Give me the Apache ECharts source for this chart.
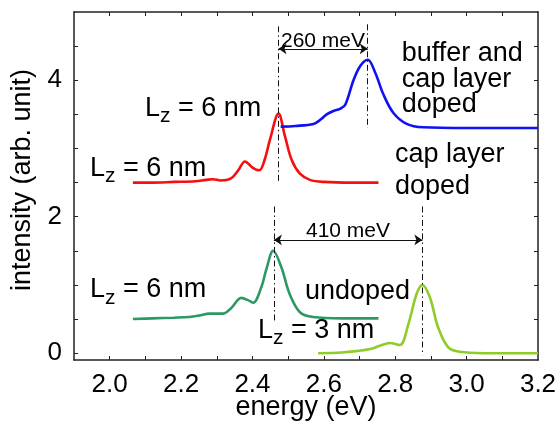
<!DOCTYPE html>
<html>
<head>
<meta charset="utf-8">
<script src="https://cdn.jsdelivr.net/npm/echarts@6/dist/echarts.min.js"></script>
<style>html,body{margin:0;padding:0;background:#fff}#c{width:560px;height:430px}</style>
</head>
<body>
<div id="c"></div>
<script>
// ---- data (energy in eV, intensity in arb. units) ----
const capDoped = [[2.065,2.50],[2.12,2.50],[2.18,2.51],[2.24,2.52],[2.27,2.54],[2.29,2.55],[2.31,2.53],[2.34,2.56],[2.36,2.68],[2.379,2.81],[2.40,2.72],[2.419,2.68],[2.435,2.85],[2.449,3.13],[2.473,3.51],[2.491,3.18],[2.51,2.83],[2.533,2.63],[2.561,2.54],[2.60,2.51],[2.68,2.50],[2.753,2.50]];
const bufferCapDoped = [[2.479,3.32],[2.52,3.33],[2.571,3.36],[2.59,3.42],[2.608,3.50],[2.627,3.55],[2.645,3.58],[2.66,3.64],[2.683,4.00],[2.702,4.21],[2.723,4.30],[2.744,4.11],[2.767,3.79],[2.795,3.52],[2.832,3.36],[2.878,3.31],[3.0,3.30],[3.2,3.30]];
const undoped6 = [[2.065,0.50],[2.12,0.51],[2.18,0.52],[2.223,0.53],[2.25,0.55],[2.28,0.58],[2.318,0.58],[2.34,0.66],[2.369,0.81],[2.39,0.77],[2.402,0.74],[2.425,0.97],[2.44,1.25],[2.458,1.50],[2.481,1.26],[2.504,0.87],[2.533,0.60],[2.57,0.53],[2.65,0.51],[2.753,0.51]];
const undoped3 = [[2.584,0.00],[2.65,0.01],[2.691,0.03],[2.73,0.06],[2.757,0.11],[2.785,0.15],[2.813,0.12],[2.837,0.43],[2.86,0.87],[2.876,1.00],[2.897,0.82],[2.92,0.38],[2.948,0.09],[2.98,0.02],[3.05,0.00],[3.2,0.00]];
// vertical dash-dot guides and double arrows (data coordinates)
const guideLines = [
  [[2.473,4.79],[2.473,2.49]],
  [[2.723,4.82],[2.723,3.30]],
  [[2.460,2.15],[2.460,0.48]],
  [[2.876,2.15],[2.876,-0.03]]
];
const arrows = [
  [[2.473,4.46],[2.723,4.46]],
  [[2.460,1.66],[2.876,1.66]]
];
// axes
const xRange = [1.9, 3.2];
const yRange = [-0.1, 5];
const xTickLabels = [2.0,2.2,2.4,2.6,2.8,3.0,3.2];
const xTicks = [2.0,2.1,2.2,2.3,2.4,2.5,2.6,2.7,2.8,2.9,3.0,3.1];
const yTickLabels = [0,2,4];
const yTicks = [0,0.5,1,1.5,2,2.5,3,3.5,4,4.5];

const FONT = 'Liberation Sans, Arial, Helvetica, sans-serif';
const axisColor = '#222';

function axisBase(type, pos, ticks, labels, showLabels, range) {
  return {
    type: 'value', position: pos, min: range[0], max: range[1],
    axisLine: {show: true, onZero: false, lineStyle: {color: axisColor, width: 1.5}},
    axisTick: {show: true, inside: true, length: 4, lineStyle: {color: axisColor, width: 1}, customValues: ticks},
    axisLabel: {show: showLabels, customValues: showLabels ? labels : ticks, margin: 12,
      fontSize: 26, fontFamily: FONT, color: '#000',
      formatter: v => type === 'x' ? Number(v).toFixed(1) : String(Math.round(v))},
    splitLine: {show: false}
  };
}

const chart = echarts.init(document.getElementById('c'), null, {renderer: 'canvas'});
const rich = {
  a: {fontSize: 27, lineHeight: 30, fontFamily: FONT, color: '#000'},
  s: {fontSize: 21, lineHeight: 14, padding: [16, 0, 0, 0], fontFamily: FONT, color: '#000'}
};
function lzText(x, y, txt) {
  return {type: 'text', x: x, y: y, z: 100, style: {text: '{a|L}{s|z}{a| = ' + txt + '}', rich: rich, verticalAlign: 'top', fill: '#000'}};
}
function plain(x, y, txt, size, align, rot) {
  return {type: 'text', x: x, y: y, z: 100, rotation: rot || 0,
    style: {text: txt, fontSize: size, fontFamily: FONT, fill: '#000', align: align || 'left', verticalAlign: 'middle'}};
}

chart.setOption({
  backgroundColor: '#fff',
  animation: false,
  grid: {left: 74, right: 22, top: 12, bottom: 70, containLabel: false, outerBoundsMode: 'none'},
  xAxis: [axisBase('x', 'bottom', xTicks, xTickLabels, true, xRange), axisBase('x', 'top', xTicks, xTickLabels, false, xRange)],
  yAxis: [axisBase('y', 'left', yTicks, yTickLabels, true, yRange), axisBase('y', 'right', yTicks, yTickLabels, false, yRange)],
  series: [
    {type: 'line', data: capDoped, smooth: 0.35, showSymbol: false, lineStyle: {color: '#f41010', width: 2.6}, z: 5},
    {type: 'line', data: bufferCapDoped, smooth: 0.35, showSymbol: false, lineStyle: {color: '#1010f4', width: 2.6}, z: 5},
    {type: 'line', data: undoped6, smooth: 0.35, showSymbol: false, lineStyle: {color: '#2a9a62', width: 2.6}, z: 5},
    {type: 'line', data: undoped3, smooth: 0.35, showSymbol: false, lineStyle: {color: '#8fcc2a', width: 2.6}, z: 5},
    {type: 'lines', coordinateSystem: 'cartesian2d', silent: true, z: 6,
      data: guideLines.map(c => ({coords: c})),
      lineStyle: {color: '#111', width: 1, type: [6, 3, 1.5, 3], opacity: 1}},
    {type: 'lines', coordinateSystem: 'cartesian2d', silent: true, z: 6,
      symbol: ['arrow', 'arrow'], symbolSize: 8,
      data: arrows.map(c => ({coords: c})),
      lineStyle: {color: '#111', width: 1, opacity: 1}}
  ],
  graphic: [
    plain(23, 180, 'intensity (arb. unit)', 27, 'center', Math.PI / 2),
    plain(306, 408, 'energy (eV)', 27, 'center'),
    lzText(145, 93.6, '6 nm'),
    lzText(90, 153.6, '6 nm'),
    lzText(90, 275, '6 nm'),
    lzText(258, 315.6, '3 nm'),
    plain(401.7, 53.6, 'buffer and', 27),
    plain(401.7, 79.6, 'cap layer', 27),
    plain(401.7, 104.6, 'doped', 27),
    plain(395, 154.6, 'cap layer', 27),
    plain(395, 186.6, 'doped', 27),
    plain(305, 291.6, 'undoped', 27),
    plain(323, 41.5, '260 meV', 21, 'center'),
    plain(348, 231.5, '410 meV', 21, 'center')
  ]
});
</script>
</body>
</html>
